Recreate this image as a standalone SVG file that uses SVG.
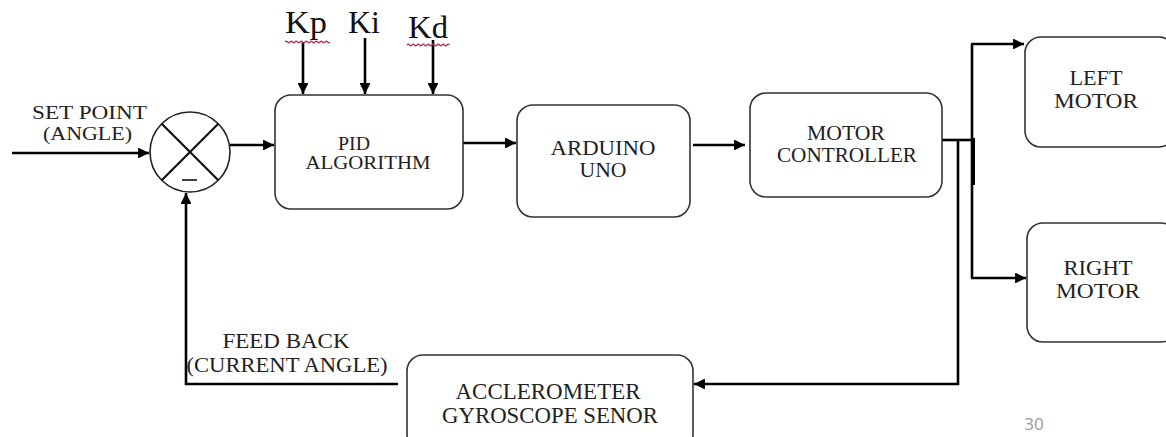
<svg xmlns="http://www.w3.org/2000/svg" width="1166" height="437" viewBox="0 0 1166 437">
<style>
  .box{fill:#fff;stroke:#333;stroke-width:1.6}
  .t{font-family:"Liberation Serif","Times New Roman",serif;fill:#222;text-anchor:middle;font-size:21px}
  .k{font-family:"Liberation Serif","Times New Roman",serif;fill:#111;font-size:31px}
  .c{fill:none;stroke:#000;stroke-width:2.6}
  .a{marker-end:url(#ah)}
  .sq{fill:none;stroke:#a8325a;stroke-width:1.3}
</style>
<defs>
  <marker id="ah" viewBox="0 0 10 10" refX="10" refY="5" markerWidth="4.2" markerHeight="4.2" orient="auto" markerUnits="strokeWidth">
    <path d="M0,0 L10,5 L0,10 z" fill="#000"/>
  </marker>
</defs>
<rect width="1166" height="437" fill="#fff"/>

<g id="connectors">
  <path class="c a" d="M12,153 H149"/>
  <path class="c a" d="M230,145 H274"/>
  <path class="c a" d="M303,42 V94"/>
  <path class="c a" d="M365,38 V94"/>
  <path class="c a" d="M433,40 V94"/>
  <path class="c a" d="M463,143 H516"/>
  <path class="c a" d="M693,145 H745"/>
  <path class="c" d="M942,140 H972"/>
  <path class="c" d="M972,44 V278"/>
  <path d="M973,138 V185" stroke="#000" stroke-width="4"/>
  <path class="c a" d="M971,44 H1024"/>
  <path class="c a" d="M971,278 H1026"/>
  <path class="c a" d="M958,140 V384 H694"/>
  <path class="c a" d="M398,384 H186 V193"/>
</g>

<g id="sum">
  <circle cx="190" cy="152" r="40" fill="#fff" stroke="#222" stroke-width="1.6"/>
  <path d="M161.7,123.7 L218.3,180.3 M218.3,123.7 L161.7,180.3" stroke="#111" stroke-width="2.2"/>
  <path d="M182,180 H197" stroke="#111" stroke-width="1.6"/>
</g>

<g id="labels-in">
  <text class="t" x="89.5" y="119" style="font-size:18px" textLength="115" lengthAdjust="spacingAndGlyphs">SET POINT</text>
  <text class="t" x="87.5" y="140" style="font-size:18px" textLength="89" lengthAdjust="spacingAndGlyphs">(ANGLE)</text>
</g>

<g id="gains">
  <text class="k" x="285" y="33" textLength="42" lengthAdjust="spacingAndGlyphs">Kp</text>
  <text class="k" x="348" y="33" textLength="32" lengthAdjust="spacingAndGlyphs">Ki</text>
  <text class="k" x="408" y="38" textLength="40" lengthAdjust="spacingAndGlyphs">Kd</text>
  <path class="sq" d="M285,42 q1.25,-1.6 2.5,0 t2.5,0 t2.5,0 t2.5,0 t2.5,0 t2.5,0 t2.5,0 t2.5,0 t2.5,0 t2.5,0 t2.5,0 t2.5,0 t2.5,0 t2.5,0 t2.5,0 t2.5,0 t2.5,0 t2.5,0"/>
  <path class="sq" d="M407,45 q1.25,-1.6 2.5,0 t2.5,0 t2.5,0 t2.5,0 t2.5,0 t2.5,0 t2.5,0 t2.5,0 t2.5,0 t2.5,0 t2.5,0 t2.5,0 t2.5,0 t2.5,0 t2.5,0 t2.5,0 t2.5,0"/>
</g>

<g id="pid">
  <rect class="box" x="275" y="95" width="188" height="114" rx="16"/>
  <text class="t" x="354" y="150" style="font-size:18px" textLength="32" lengthAdjust="spacingAndGlyphs">PID</text>
  <text class="t" x="368" y="169" style="font-size:18px" textLength="125" lengthAdjust="spacingAndGlyphs">ALGORITHM</text>
</g>

<g id="arduino">
  <rect class="box" x="517" y="105" width="173" height="112" rx="16"/>
  <text class="t" x="603" y="155" style="font-size:20px" textLength="105" lengthAdjust="spacingAndGlyphs">ARDUINO</text>
  <text class="t" x="603" y="177" style="font-size:20px" textLength="47" lengthAdjust="spacingAndGlyphs">UNO</text>
</g>

<g id="motor-controller">
  <rect class="box" x="750" y="93" width="192" height="104" rx="16"/>
  <text class="t" x="846" y="140" style="font-size:20px" textLength="78" lengthAdjust="spacingAndGlyphs">MOTOR</text>
  <text class="t" x="847" y="162" style="font-size:20px" textLength="140" lengthAdjust="spacingAndGlyphs">CONTROLLER</text>
</g>

<g id="left-motor">
  <rect class="box" x="1025" y="37" width="150" height="110" rx="16"/>
  <text class="t" x="1096" y="85" style="font-size:22px" textLength="53" lengthAdjust="spacingAndGlyphs">LEFT</text>
  <text class="t" x="1096" y="108" style="font-size:22px" textLength="84" lengthAdjust="spacingAndGlyphs">MOTOR</text>
</g>

<g id="right-motor">
  <rect class="box" x="1027" y="223" width="150" height="119" rx="16"/>
  <text class="t" x="1098" y="275" style="font-size:22px" textLength="69" lengthAdjust="spacingAndGlyphs">RIGHT</text>
  <text class="t" x="1098" y="298" style="font-size:22px" textLength="84" lengthAdjust="spacingAndGlyphs">MOTOR</text>
</g>

<g id="sensor">
  <rect class="box" x="407" y="355" width="286" height="95" rx="16"/>
  <text class="t" x="548" y="399" style="font-size:23px" textLength="185" lengthAdjust="spacingAndGlyphs">ACCLEROMETER</text>
  <text class="t" x="550" y="423" style="font-size:23px" textLength="216" lengthAdjust="spacingAndGlyphs">GYROSCOPE SENOR</text>
</g>

<g id="feedback-label">
  <text class="t" x="286" y="348" textLength="127" lengthAdjust="spacingAndGlyphs">FEED BACK</text>
  <text class="t" x="287" y="372" textLength="201" lengthAdjust="spacingAndGlyphs">(CURRENT ANGLE)</text>
</g>

<text x="1034" y="430" font-family="'Open Sans','Liberation Sans',sans-serif" font-size="17" fill="#9a9a9a" text-anchor="middle">30</text>
</svg>
